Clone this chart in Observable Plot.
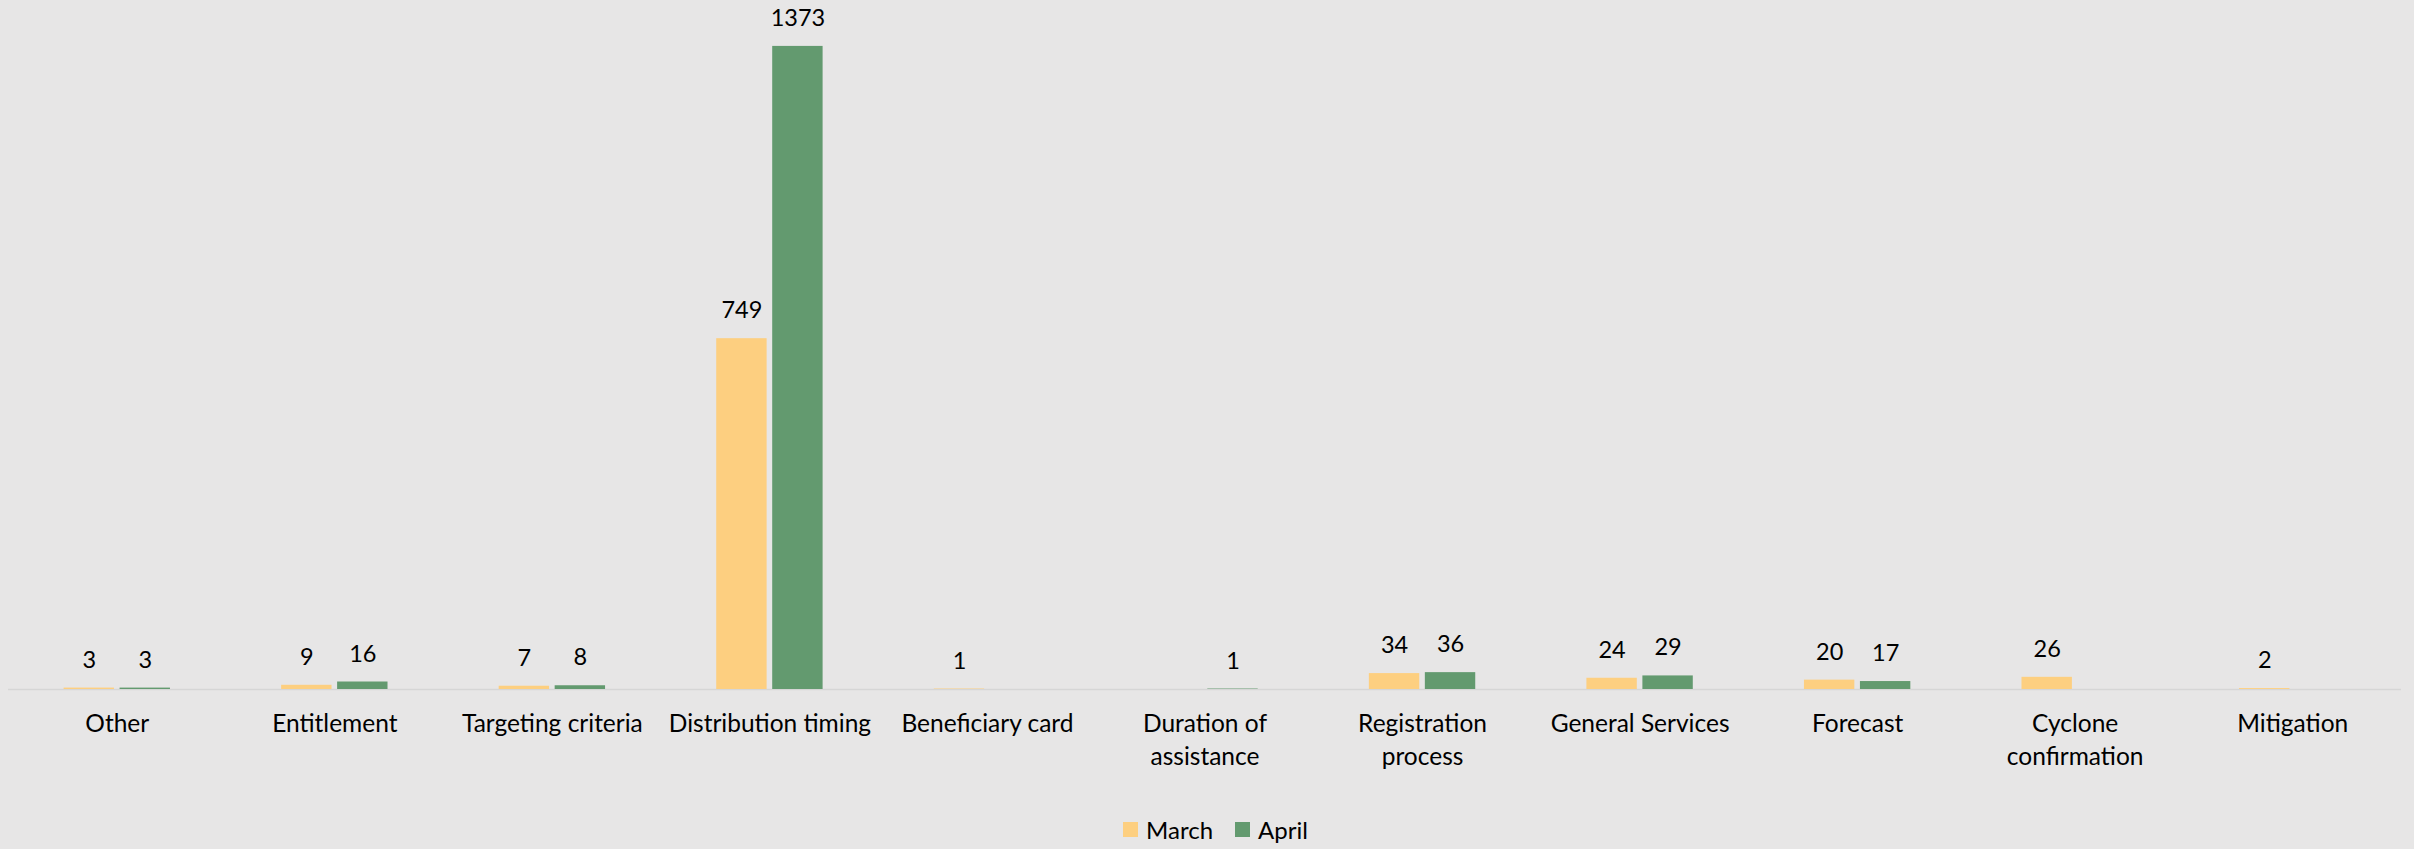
<!DOCTYPE html>
<html>
<head>
<meta charset="utf-8">
<script src="https://cdn.jsdelivr.net/npm/d3@7"></script>
<script src="https://cdn.jsdelivr.net/npm/@observablehq/plot@0.6"></script>
<style>
  html, body { margin: 0; padding: 0; background: #E7E6E6; }
  #chart svg { display: block; }
  .legend { display: flex; justify-content: center; align-items: center; height: 39px; padding-left: 17px;
            font-family: Lato, "Open Sans", sans-serif; font-size: 24px; color: #000; }
  .legend .item { display: flex; align-items: center; margin: 0 11px; }
  .legend .sw { width: 15px; height: 15px; margin-right: 8px; }
</style>
</head>
<body>
<div id="chart"></div>
<script>
const categories = ["Other","Entitlement","Targeting criteria","Distribution timing","Beneficiary card","Duration of assistance","Registration process","General Services","Forecast","Cyclone confirmation","Mitigation"];
const categoryLabels = ["Other","Entitlement","Targeting criteria","Distribution timing","Beneficiary card","Duration of\nassistance","Registration\nprocess","General Services","Forecast","Cyclone\nconfirmation","Mitigation"];
const series = ["March","April"];
const march = [3, 9, 7, 749, 1, null, 34, 24, 20, 26, 2];
const april = [3, 16, 8, 1373, null, 1, 36, 29, 17, null, null];
const colors = ["#FDCF80", "#639A6F"];

const rows = [];
categories.forEach((c, i) => {
  [march, april].forEach((arr, j) => {
    if (arr[i] != null) rows.push({cat: c, series: series[j], value: arr[i]});
  });
});
const labelOf = new Map(categories.map((c, i) => [c, categoryLabels[i]]));

const plot = Plot.plot({
  width: 2414,
  height: 810,
  marginTop: 0,
  marginBottom: 121,
  marginLeft: 8,
  marginRight: 13,
  style: {background: "#E7E6E6", fontFamily: "Lato, 'Open Sans', sans-serif", color: "#000"},
  fx: {domain: categories, paddingInner: 0.511, paddingOuter: 0.2555, round: false, axis: null},
  x: {domain: series, paddingInner: 0.1, paddingOuter: 0, round: false, axis: null},
  y: {domain: [0, 1471], axis: null},
  color: {domain: series, range: colors},
  marks: [
    Plot.barY(rows, {fx: "cat", x: "series", y: "value", fill: "series"}),
    Plot.text(rows, {fx: "cat", x: "series", y: "value", text: d => String(d.value), dy: -28, fontSize: 23.5, fill: "#000"}),
    Plot.text(categories, {fx: d => d, frameAnchor: "bottom", dy: 19, lineAnchor: "top", lineHeight: 1.34, text: d => labelOf.get(d), fontSize: 24.5, fill: "#000"})
  ]
});

// baseline across the full category range
const svg = d3.select(plot);
const y0 = plot.scale("y").apply(0);
const fxr = plot.scale("fx").range;
svg.insert("line", "g")
  .attr("x1", fxr[0]).attr("x2", fxr[1])
  .attr("y1", y0 + 0.5).attr("y2", y0 + 0.5)
  .attr("stroke", "#D6D6D6").attr("stroke-width", 1.6);

document.getElementById("chart").appendChild(plot);

const legend = document.createElement("div");
legend.className = "legend";
series.forEach((s, i) => {
  const item = document.createElement("div");
  item.className = "item";
  const sw = document.createElement("div");
  sw.className = "sw";
  sw.style.background = colors[i];
  const t = document.createElement("span");
  t.textContent = s;
  item.appendChild(sw); item.appendChild(t);
  legend.appendChild(item);
});
document.body.appendChild(legend);
</script>
</body>
</html>
